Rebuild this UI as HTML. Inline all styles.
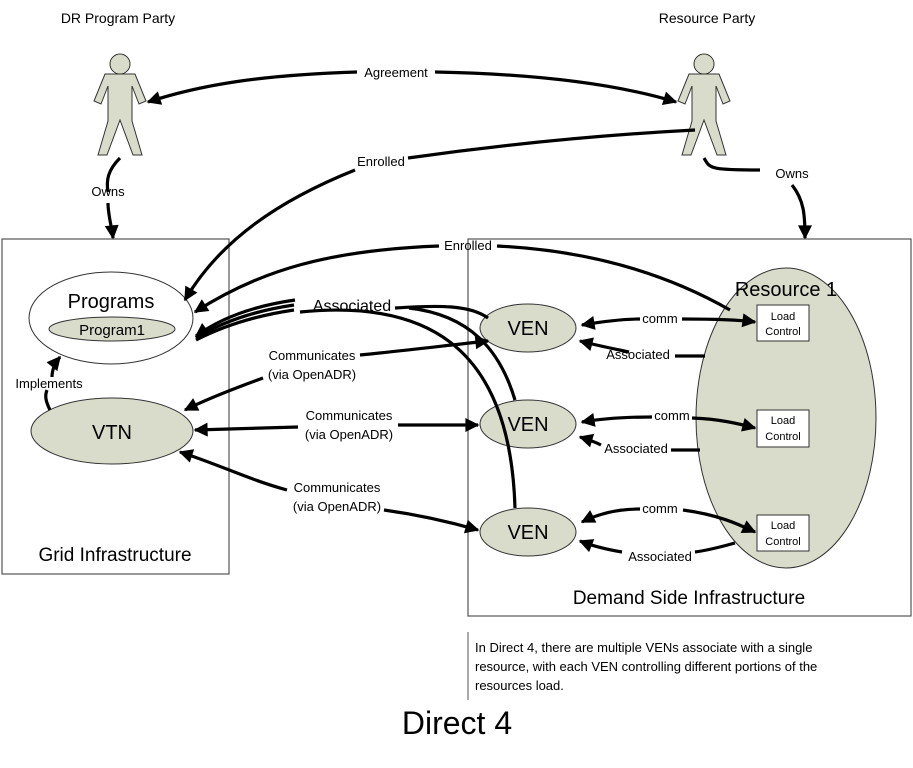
<!DOCTYPE html>
<html><head><meta charset="utf-8"><style>
html,body{margin:0;padding:0;background:#fff;}
svg{display:block;font-family:"Liberation Sans","DejaVu Sans",sans-serif;}
</style></head><body>
<svg width="913" height="768" viewBox="0 0 913 768" xmlns="http://www.w3.org/2000/svg">
<defs>
<marker id="b" viewBox="0 0 10 10" refX="9" refY="5" markerWidth="20" markerHeight="14" orient="auto" markerUnits="userSpaceOnUse">
<path d="M0,0 L10,5 L0,10 z" fill="#000"/></marker>
</defs>
<rect width="913" height="768" fill="#fff"/>

<rect x="2" y="239" width="227" height="335" fill="none" stroke="#555" stroke-width="1.2"/>
<rect x="468" y="239" width="443" height="377" fill="none" stroke="#555" stroke-width="1.2"/>

<g fill="#d9dccb" stroke="#333" stroke-width="1">
<circle cx="120" cy="64" r="10"/>
<path d="M105,74 L135,74 L146,101 L139,104 L132,86 L132,121 L142,155 L133,155 L120,120 L107,155 L98,155 L108,121 L108,86 L101,104 L94,101 Z"/>
<circle cx="704" cy="64" r="10"/>
<path d="M689,74 L719,74 L730,101 L723,104 L716,86 L716,121 L726,155 L717,155 L704,120 L691,155 L682,155 L692,121 L692,86 L685,104 L678,101 Z"/>
</g>
<text x="118" y="23" font-size="14" text-anchor="middle">DR Program Party</text>
<text x="707" y="23" font-size="14" text-anchor="middle">Resource Party</text>

<ellipse cx="786" cy="418" rx="90" ry="150" fill="#d9dccb" stroke="#333"/>
<text x="786" y="296" font-size="20" text-anchor="middle">Resource 1</text>
<g fill="#fff" stroke="#333">
<rect x="757" y="305" width="52" height="36"/>
<rect x="757" y="410" width="52" height="37"/>
<rect x="757" y="515" width="52" height="36"/>
</g>
<g font-size="11" text-anchor="middle">
<text x="783" y="320">Load</text><text x="783" y="335">Control</text>
<text x="783" y="424">Load</text><text x="783" y="440">Control</text>
<text x="783" y="529">Load</text><text x="783" y="545">Control</text>
</g>

<ellipse cx="111" cy="318" rx="82" ry="46" fill="#fff" stroke="#333"/>
<text x="111" y="308" font-size="20" text-anchor="middle">Programs</text>
<ellipse cx="112" cy="329" rx="63" ry="12" fill="#d9dccb" stroke="#333"/>
<text x="112" y="335" font-size="15" text-anchor="middle">Program1</text>
<ellipse cx="112" cy="431" rx="81" ry="33" fill="#d9dccb" stroke="#333"/>
<text x="112" y="439" font-size="20" text-anchor="middle">VTN</text>
<g fill="#d9dccb" stroke="#333">
<ellipse cx="528" cy="328" rx="48" ry="24"/>
<ellipse cx="528" cy="424" rx="48" ry="24"/>
<ellipse cx="528" cy="532" rx="48" ry="24"/>
</g>
<g font-size="20" text-anchor="middle">
<text x="528" y="335">VEN</text><text x="528" y="431">VEN</text><text x="528" y="539">VEN</text>
</g>

<g fill="none" stroke="#000" stroke-width="3.2">
<path d="M357,72 C260,75 200,85 148,102" marker-end="url(#b)"/>
<path d="M435,72 C540,74 620,85 676,102" marker-end="url(#b)"/>
<path d="M120,158 C108,170 106,180 108,192"/>
<path d="M108,203 C108,215 112,228 113,238" marker-end="url(#b)"/>
<path d="M704,158 C710,168 708,170 760,170"/>
<path d="M792,185 C804,200 805,215 805,238" marker-end="url(#b)"/>
<path d="M695,130 C600,135 500,145 408,158"/>
<path d="M355,170 C280,200 220,240 185,300" marker-end="url(#b)"/>
<path d="M730,310 C660,270 580,250 497,246"/>
<path d="M439,246 C330,250 260,270 195,312" marker-end="url(#b)"/>
<path d="M295,300 C260,305 225,315 196,336" marker-end="url(#b)"/>
<path d="M294,305 C260,310 225,320 196,338"/>
<path d="M294,310 C260,315 225,325 196,340"/>
<path d="M395,308 C440,305 470,305 488,318"/>
<path d="M409,308 C470,315 500,350 515,400"/>
<path d="M300,312 C420,300 510,340 515,508"/>
<path d="M360,355 C410,350 450,345 488,341" marker-end="url(#b)"/>
<path d="M263,378 C230,390 205,400 185,410" marker-end="url(#b)"/>
<path d="M298,427 L195,430" marker-end="url(#b)"/>
<path d="M398,425 L478,425" marker-end="url(#b)"/>
<path d="M287,490 C250,480 220,465 180,452" marker-end="url(#b)"/>
<path d="M384,510 C420,515 450,522 478,530" marker-end="url(#b)"/>
<path d="M640,319 C620,319 600,322 582,325" marker-end="url(#b)"/>
<path d="M682,319 C720,319 740,320 755,322" marker-end="url(#b)"/>
<path d="M629,352 C610,348 595,345 580,341" marker-end="url(#b)"/>
<path d="M675,356 L705,356"/>
<path d="M652,417 C620,417 600,419 582,422" marker-end="url(#b)"/>
<path d="M692,418 C720,419 740,424 755,428" marker-end="url(#b)"/>
<path d="M601,445 C595,442 590,440 580,437" marker-end="url(#b)"/>
<path d="M671,450 L700,450"/>
<path d="M640,509 C620,509 600,513 582,522" marker-end="url(#b)"/>
<path d="M683,510 C720,515 740,525 755,532" marker-end="url(#b)"/>
<path d="M622,552 C610,550 595,547 580,541" marker-end="url(#b)"/>
<path d="M695,552 C710,550 720,547 735,543"/>
<path d="M50,410 C45,400 45,395 47,390"/>
<path d="M52,377 C52,370 55,363 60,357" marker-end="url(#b)"/>
</g>

<g font-size="13" text-anchor="middle">
<text x="396" y="77">Agreement</text>
<text x="108" y="196">Owns</text>
<text x="792" y="178">Owns</text>
<text x="381" y="166">Enrolled</text>
<text x="468" y="250">Enrolled</text>
<text x="312" y="360">Communicates</text>
<text x="312" y="379">(via OpenADR)</text>
<text x="349" y="420">Communicates</text>
<text x="349" y="439">(via OpenADR)</text>
<text x="337" y="492">Communicates</text>
<text x="337" y="511">(via OpenADR)</text>
<text x="660" y="323">comm</text>
<text x="638" y="359">Associated</text>
<text x="672" y="420">comm</text>
<text x="636" y="453">Associated</text>
<text x="660" y="513">comm</text>
<text x="660" y="561">Associated</text>
<text x="49" y="388">Implements</text>
</g>
<text x="352" y="311" font-size="16" text-anchor="middle">Associated</text>
<text x="115" y="561" font-size="19" text-anchor="middle">Grid Infrastructure</text>
<text x="689" y="604" font-size="19" text-anchor="middle">Demand Side Infrastructure</text>

<line x1="468" y1="632" x2="468" y2="700" stroke="#555"/>
<g font-size="13">
<text x="475" y="652">In Direct 4, there are multiple VENs associate with a single</text>
<text x="475" y="671">resource, with each VEN controlling different portions of the</text>
<text x="475" y="690">resources load.</text>
</g>
<text x="457" y="734" font-size="32" text-anchor="middle">Direct 4</text>
</svg>
</body></html>
